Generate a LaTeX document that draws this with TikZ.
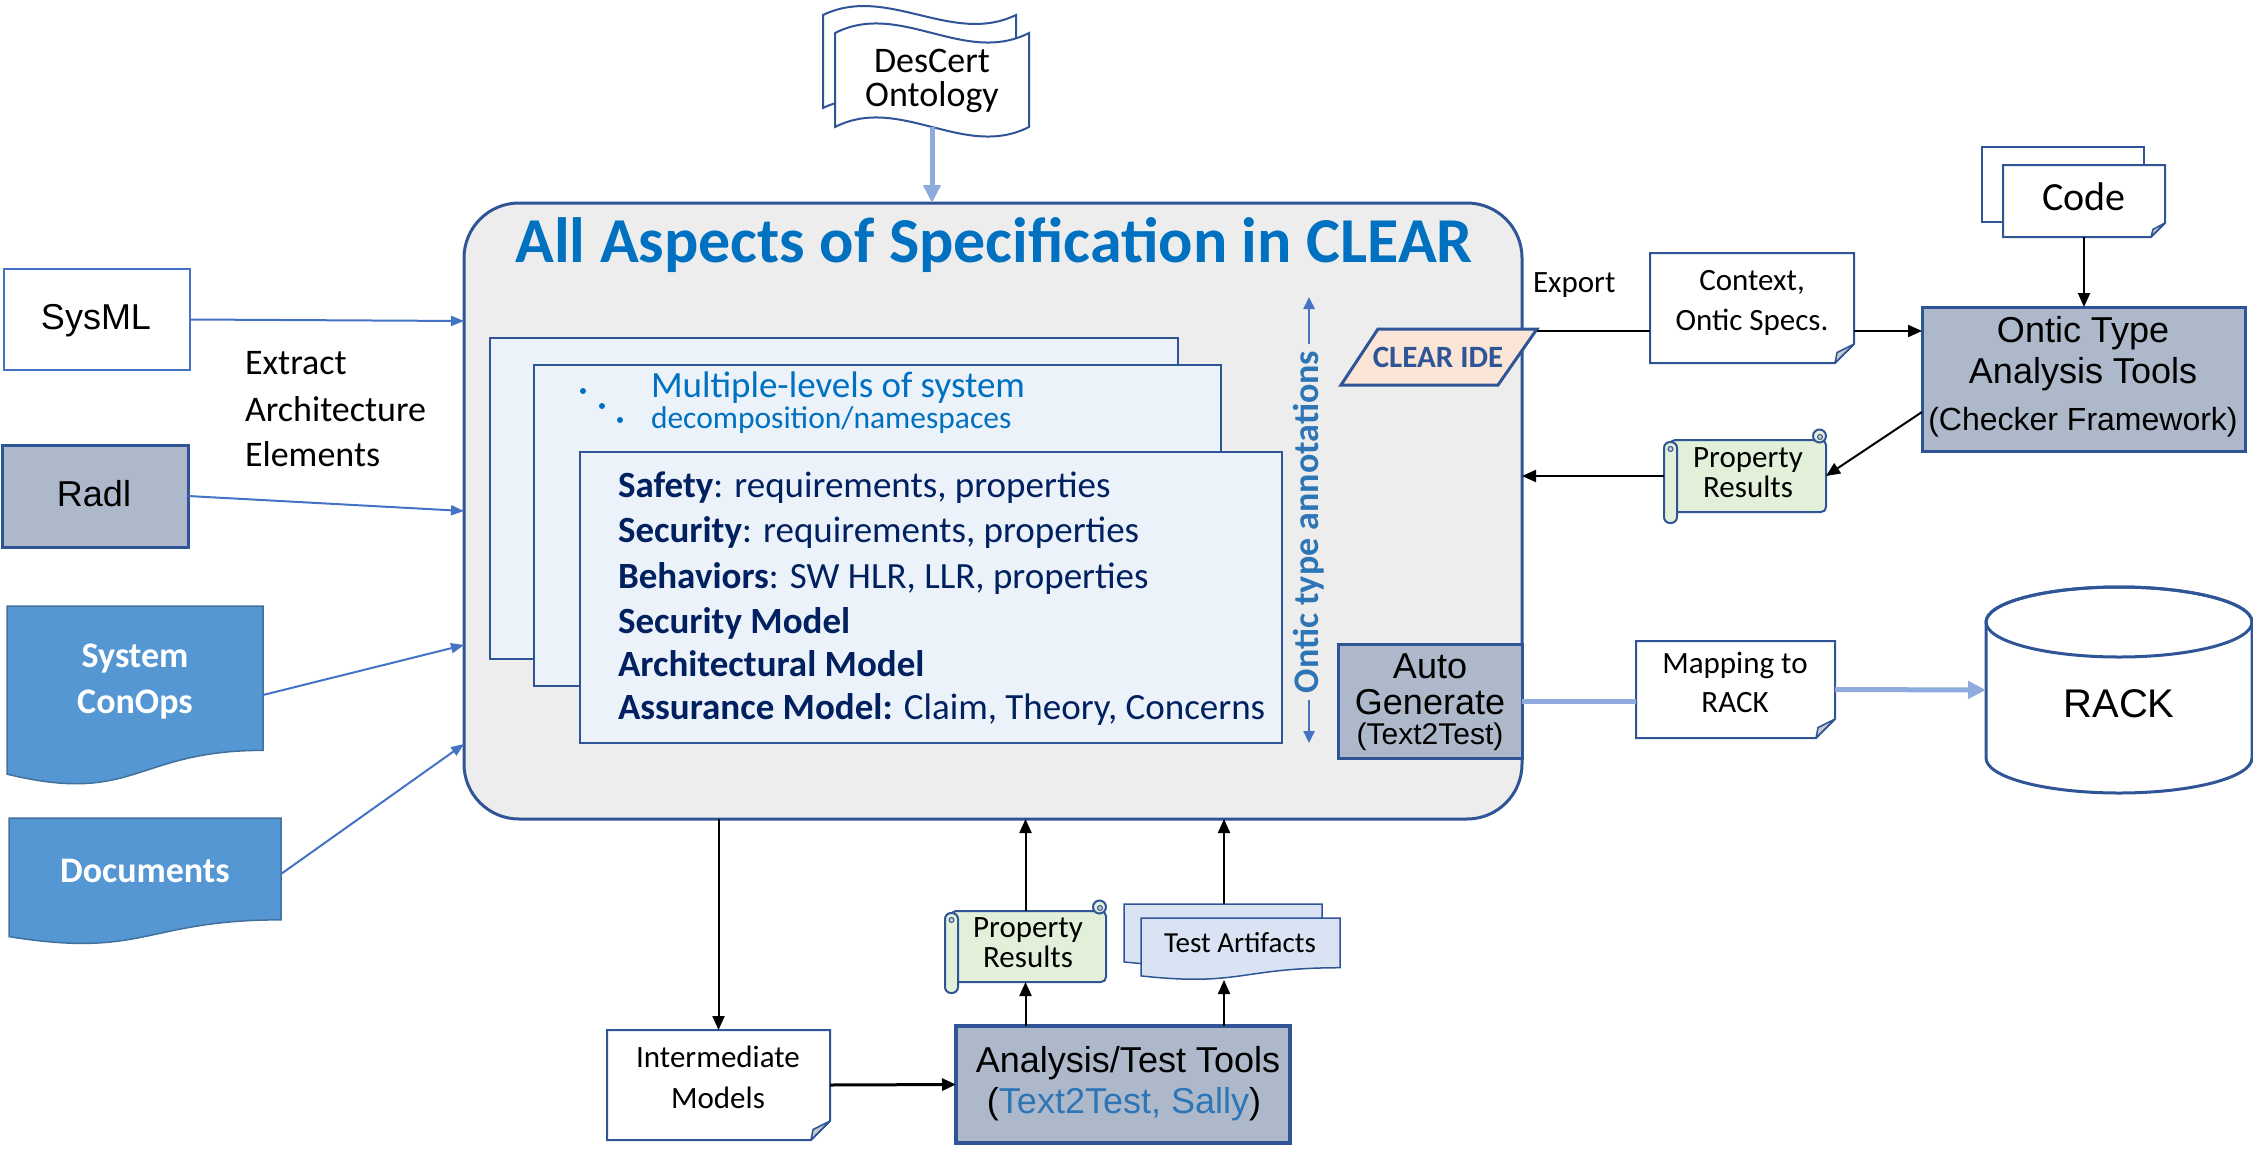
\documentclass[tikz,border=0pt]{standalone}
\usepackage{fontspec}
\setmainfont{Carlito}
\newfontfamily\arialf{Liberation Sans}
\usetikzlibrary{arrows.meta,fit}
\definecolor{dkblue}{HTML}{2F5597}
\definecolor{grayfill}{HTML}{ADB9CA}
\definecolor{mainfill}{HTML}{EDEDED}
\definecolor{titleblue}{HTML}{0070C0}
\definecolor{innerfill}{HTML}{EBF2FA}
\definecolor{navy}{HTML}{002060}
\definecolor{arrblue}{HTML}{4472C4}
\definecolor{ltblue}{HTML}{8FAADC}
\definecolor{docfill}{HTML}{5597D3}
\definecolor{docline}{HTML}{41719C}
\definecolor{peach}{HTML}{FBE5D6}
\definecolor{scrgreen}{HTML}{E2F0D9}
\definecolor{tafill}{HTML}{DAE3F3}
\definecolor{annblue}{HTML}{2E75B6}
\definecolor{foldgray}{HTML}{C9C9C9}
\newcommand\fsz[1]{\fontsize{#1}{#1}\selectfont}
% note box: name, x1, y1, x2, y2, fold
\newcommand\notebox[6]{%
  \coordinate (#1-a) at (#2,#3); \coordinate (#1-b) at (#4,#5);
  \node[box, fit=(#1-a)(#1-b)] (#1) {};
  \filldraw[notest] (#2,#3) -- (#4,#3) -- (#4,#5-#6) -- (#4-#6,#5) -- (#2,#5) -- cycle;
  \filldraw[foldst] (#4,#5-#6) -- (#4-#6,#5) -- (#4-#6+2,#5-0.55*#6) -- cycle;
}
% scroll: name, x1, y1, x2, y2
\newcommand\scrollbox[5]{%
  \coordinate (#1-a) at (#2,#3); \coordinate (#1-b) at (#4,#5);
  \node[box, fit=(#1-a)(#1-b)] (#1) {};
  \filldraw[scrst, rounded corners=5pt] (#2+6,#3) -- (#4,#3) -- (#4,#5) -- (#2+6,#5) -- cycle;
  \filldraw[scrst] (#4-6.5,#3-4) circle (6.5pt);
  \filldraw[fill=foldgray, draw=dkblue, line width=1pt] (#4-6,#3-3) circle (2.5pt);
  \filldraw[scrst, rounded corners=6pt] (#2,#3+2) rectangle (#2+13,#5+11);
  \filldraw[fill=foldgray, draw=dkblue, line width=1pt] (#2+6.5,#3+9) circle (2.5pt);
}
% document shape: style, x1, y1, x2, H
\newcommand\docshape[5]{%
  \filldraw[#1] (#2,#3) -- (#4,#3) -- (#4,#3+0.802*#5)
    .. controls ({(#2+#4)/2},#3+0.802*#5) and ({(#2+#4)/2},#3+1.1075*#5) .. (#2,#3+0.934*#5) -- cycle;
}
\begin{document}
\begin{tikzpicture}[x=1pt,y=-1pt,
  box/.style={inner sep=0pt, outer sep=0pt},
  txt/.style={inner sep=0pt, outer sep=0pt, anchor=base},
  graybox/.style={box, draw=dkblue, fill=grayfill, line width=3pt},
  innerbox/.style={box, draw=dkblue, fill=innerfill, line width=2pt},
  notest/.style={fill=white, draw=dkblue, line width=2pt},
  foldst/.style={fill=foldgray, draw=dkblue, line width=1.5pt, line join=round},
  scrst/.style={fill=scrgreen, draw=dkblue, line width=2pt},
  docst/.style={fill=docfill, draw=docline, line width=1.5pt},
  tast/.style={fill=tafill, draw=dkblue, line width=1.5pt},
  blk/.style={-{Triangle[length=14pt,width=12pt]}, line width=2pt, black},
  bluearr/.style={-{Triangle[length=13pt,width=10pt]}, line width=2pt, arrblue},
  annarr/.style={-{Triangle[length=12pt,width=11pt]}, line width=2.5pt, arrblue},
  ltarr/.style={line width=5pt, ltblue},
]
\useasboundingbox (0,0) rectangle (2253,1148);

% ---------- DesCert Ontology ----------
\filldraw[fill=white, draw=dkblue, line width=2pt] (823,15) .. controls (887,-16) and (952,46) .. (1016,15) -- (1016,108) .. controls (952,139) and (887,77) .. (823,108) -- cycle;
\filldraw[fill=white, draw=dkblue, line width=2pt] (835,33) .. controls (900,0) and (964,66) .. (1029,33) -- (1029,127) .. controls (964,160) and (900,94) .. (835,127) -- cycle;
\node[box, minimum width=194, minimum height=94] (onto) at (932,80) {};
\node[txt] (ontoA) at (932,72) {\fsz{36}DesCert};
\node[txt] (ontoB) at (932,106) {\fsz{36}Ontology};

% ---------- Main box ----------
\node[box, draw=dkblue, fill=mainfill, line width=3pt, rounded corners=55pt, minimum width=1058, minimum height=616] (main) at (993,511) {};
\node[txt, text=titleblue, font=\bfseries] (title) at (994,262) {\fsz{64}All Aspects of Specification in CLEAR};

\draw[ltarr, -{Triangle[length=18pt,width=17pt]}] (onto.south) -- (onto.south |- main.north);

% inner stacked boxes
\node[innerbox, minimum width=688, minimum height=321] (lvA) at (834,498.5) {};
\node[innerbox, minimum width=687, minimum height=321] (lvB) at (877.5,525.5) {};
\node[txt, anchor=base west, text=titleblue] (mlA) at (651,397) {\fsz{37}Multiple-levels of system};
\node[txt, anchor=base west, text=titleblue] (mlB) at (651,428) {\fsz{31.5}decomposition/namespaces};
\fill[titleblue] (583,391) circle (3pt) (602,406) circle (3pt) (620,420) circle (3pt);
\node[innerbox, minimum width=702, minimum height=291] (lvC) at (931,597.5) {};
\node[txt, anchor=base west, text=navy] (sA) at (618,497) {\fsz{37}\textbf{Safety}: requirements, properties};
\node[txt, anchor=base west, text=navy] (sB) at (618,542) {\fsz{37}\textbf{Security}: requirements, properties};
\node[txt, anchor=base west, text=navy] (sC) at (618,588) {\fsz{37}\textbf{Behaviors}: SW HLR, LLR, properties};
\node[txt, anchor=base west, text=navy] (sD) at (618,633) {\fsz{37}\textbf{Security Model}};
\node[txt, anchor=base west, text=navy] (sE) at (618,676) {\fsz{37}\textbf{Architectural Model}};
\node[txt, anchor=base west, text=navy] (sF) at (618,719) {\fsz{37}\textbf{Assurance Model:} Claim, Theory, Concerns};

% Ontic type annotations
\node[inner sep=7pt, outer sep=0pt, rotate=90, text=annblue, font=\bfseries] (ann) at (1309,522) {\fsz{36}Ontic type annotations};
\coordinate (annT) at (1309,297);
\coordinate (annB) at (1309,743);
\draw[annarr] (ann.east) -- (annT);
\draw[annarr] (ann.west) -- (annB);

% CLEAR IDE
\filldraw[fill=peach, draw=dkblue, line width=3pt] (1378,329) -- (1537,329) -- (1498,385) -- (1341,385) -- cycle;
\node[txt, text=dkblue, font=\bfseries] (ide) at (1438,367) {\fsz{31}CLEAR IDE};
\coordinate (ideR) at (1537,331);

% Auto Generate
\node[graybox, minimum width=184, minimum height=114] (auto) at (1430,701) {};
\node[txt] (auA) at (1430,678) {\arialf\fsz{36}Auto};
\node[txt] (auB) at (1430,714) {\arialf\fsz{36}Generate};
\node[txt] (auC) at (1430,744) {\arialf\fsz{30}(Text2Test)};

% ---------- Right side ----------
\node[txt, anchor=base west] (export) at (1533,292) {\fsz{31}Export};
\notebox{ctx}{1650}{253}{1854}{363}{19}
\node[txt] (ctxA) at (1752,290) {\fsz{31}Context,};
\node[txt] (ctxB) at (1752,330) {\fsz{31}Ontic Specs.};

\filldraw[notest] (1982,147) rectangle (2144,222);
\notebox{code}{2003}{165}{2165}{237}{14}
\node[txt] (codeT) at (2084,210) {\fsz{40}Code};

\node[graybox, minimum width=323, minimum height=144] (ontic) at (2083.5,379) {};
\node[txt] (onA) at (2083,342) {\arialf\fsz{36}Ontic Type};
\node[txt] (onB) at (2083,383) {\arialf\fsz{36}Analysis Tools};
\node[txt] (onC) at (2083,430) {\arialf\fsz{32}(Checker Framework)};

\scrollbox{prr}{1664}{440}{1826}{512}
\node[txt] (prrA) at (1748,467) {\fsz{31}Property};
\node[txt] (prrB) at (1748,497) {\fsz{31}Results};

\notebox{map}{1636}{641}{1835}{738}{19}
\node[txt] (mapA) at (1735,673) {\fsz{31}Mapping to};
\node[txt] (mapB) at (1735,712) {\fsz{31}RACK};

% RACK cylinder
\filldraw[fill=white, draw=dkblue, line width=3pt] (1986,622) -- (1986,758) arc (180:360:133pt and 35pt) -- (2252,622) arc (0:180:133pt and 35pt) -- cycle;
\draw[dkblue, line width=3pt] (2119,622) ellipse (133pt and 35pt);
\node[box, minimum width=266, minimum height=205] (rack) at (2119,690) {};
\node[txt] (rackT) at (2119,717) {\arialf\fsz{40}RACK};

\coordinate (expY) at (0,331);
\coordinate (oY) at (0,412);
\draw[line width=2pt] (ideR) -- (ctx.west |- expY);
\draw[blk] (ctx.east |- expY) -- (ontic.west |- expY);
\draw[blk] (code.south) -- (code.south |- ontic.north);
\draw[blk] (ontic.west |- oY) -- (prr.east);
\draw[blk] (prr.west) -- (main.east |- prr.west);
\draw[ltarr] (auto.east) -- (map.west |- auto.east);
\draw[ltarr, -{Triangle[length=18pt,width=17pt]}] (map.east) -- (rack.west);

% ---------- Left side ----------
\node[box, draw=arrblue, fill=white, line width=1.5pt, minimum width=186, minimum height=101] (sysml) at (97,319.5) {};
\node[txt] (sysT) at (96,329) {\arialf\fsz{36}SysML};
\node[graybox, minimum width=186, minimum height=102] (radl) at (95,496) {};
\node[txt] (radlT) at (94,506) {\arialf\fsz{36}Radl};
\node[txt, anchor=base west] (exA) at (245,374) {\fsz{36}Extract};
\node[txt, anchor=base west] (exB) at (245,421) {\fsz{36}Architecture};
\node[txt, anchor=base west] (exC) at (245,466) {\fsz{36}Elements};

\docshape{docst}{7}{606}{263}{180}
\node[box, minimum width=256, minimum height=144] (conops) at (135,678) {};
\node[txt, text=white, font=\bfseries] (coA) at (135,667) {\fsz{36}System};
\node[txt, text=white, font=\bfseries] (coB) at (135,713) {\fsz{36}ConOps};

\docshape{docst}{9}{818}{281}{127}
\node[box, minimum width=272, minimum height=102] (docs) at (145,869) {};
\node[txt, text=white, font=\bfseries] (dcT) at (145,882) {\fsz{36}Documents};

\draw[bluearr] (sysml.east) -- ([yshift=190pt]main.west);
\draw[bluearr] (radl.east) -- (main.west);
\draw[bluearr] ([yshift=-17pt]conops.east) -- ([yshift=-134pt]main.west);
\draw[bluearr] ([yshift=-5pt]docs.east) -- ([yshift=-233pt]main.west);

% ---------- Bottom ----------
\notebox{intm}{607}{1030}{830}{1140}{19}
\node[txt] (imA) at (718,1067) {\fsz{31}Intermediate};
\node[txt] (imB) at (718,1108) {\fsz{31}Models};

\node[graybox, line width=4pt, minimum width=334, minimum height=117] (ana) at (1123,1084.5) {};
\node[txt] (anA) at (1128,1072) {\arialf\fsz{36}Analysis/Test Tools};
\node[txt] (anB) at (1124,1113) {\arialf\fsz{36}(\textcolor{annblue}{Text2Test, Sally})};

\scrollbox{prb}{945}{911}{1106}{982}
\node[txt] (prbA) at (1028,937) {\fsz{31}Property};
\node[txt] (prbB) at (1028,967) {\fsz{31}Results};

\docshape{tast}{1124}{904}{1322}{62}
\docshape{tast}{1141}{918}{1340}{62}
\coordinate (ta-a) at (1124,904); \coordinate (ta-b) at (1324,980);
\node[box, fit=(ta-a)(ta-b)] (ta) {};
\node[txt] (taT) at (1240,952) {\fsz{29}Test Artifacts};

\draw[blk] (intm.north |- main.south) -- (intm.north);
\draw[blk, line width=3pt] (intm.east) -- (ana.west);
\draw[blk] (prb.south |- ana.north) -- (prb.south);
\draw[blk] (prb.north) -- (prb.north |- main.south);
\draw[blk] (ta.south |- ana.north) -- (ta.south);
\draw[blk] (ta.north) -- (ta.north |- main.south);
\end{tikzpicture}
\end{document}
